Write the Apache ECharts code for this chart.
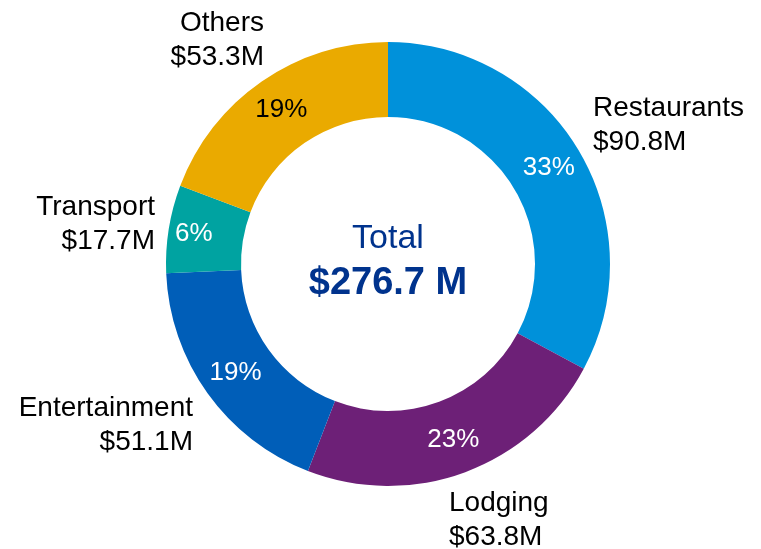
<!DOCTYPE html>
<html>
<head>
<meta charset="utf-8">
<style>
  html, body { margin: 0; padding: 0; background: #fff; }
  #chart { width: 761px; height: 549px; }
</style>
<script src="https://cdn.jsdelivr.net/npm/echarts@6/dist/echarts.min.js"></script>
</head>
<body>
<div id="chart"></div>
<script>
// spend by category, $M
const categories = ['Restaurants', 'Lodging', 'Entertainment', 'Transport', 'Others'];
const values = [90.8, 63.8, 51.1, 17.7, 53.3];

const colors = ['#0091DA', '#6D2077', '#005EB8', '#00A3A1', '#EAAA00'];
const pctColors = ['#fff', '#fff', '#fff', '#fff', '#000'];
// where each outer label sits: [x, y, align]
const outerLabelPos = [
  [593, 125, 'left'],
  [449, 520, 'left'],
  [193, 425, 'right'],
  [155, 224, 'right'],
  [264, 40, 'right']
];

const font = '"Liberation Sans", Arial, sans-serif';
const total = values.reduce((a, b) => a + b, 0);

const chart = echarts.init(document.getElementById('chart'));

const ringData = categories.map((name, i) => ({
  name: name,
  value: values[i],
  itemStyle: { color: colors[i] },
  label: { color: pctColors[i] }
}));

chart.setOption({
  animation: false,
  graphic: [
    {
      type: 'text',
      style: { text: 'Total', x: 388, y: 239, align: 'center', verticalAlign: 'middle',
        font: '34px ' + font, fill: '#00338D' }
    },
    {
      type: 'text',
      style: { text: '$' + total.toFixed(1) + ' M', x: 388, y: 284, align: 'center', verticalAlign: 'middle',
        font: 'bold 38px ' + font, fill: '#00338D' }
    }
  ],
  series: [
    {
      type: 'pie',
      center: [388, 264],
      radius: [147, 222],
      startAngle: 90,
      percentPrecision: 0,
      avoidLabelOverlap: false,
      itemStyle: { borderWidth: 0 },
      label: {
        position: 'inside',
        formatter: '{d}%',
        fontFamily: font,
        fontSize: 26
      },
      labelLine: { show: false },
      // transport's percentage sits a little left of centre in the original
      labelLayout: p => (p.dataIndex === 3 ? { dx: -9 } : {}),
      data: ringData
    },
    {
      type: 'pie',
      center: [388, 264],
      radius: [147, 222],
      startAngle: 90,
      silent: true,
      avoidLabelOverlap: false,
      itemStyle: { color: 'transparent' },
      label: {
        position: 'outside',
        formatter: p => p.name + '\n$' + p.value.toFixed(1) + 'M',
        fontFamily: font,
        fontSize: 28,
        lineHeight: 34,
        color: '#000'
      },
      labelLine: { show: false },
      labelLayout: p => {
        const pos = outerLabelPos[p.dataIndex];
        return { x: pos[0], y: pos[1], align: pos[2], verticalAlign: 'middle' };
      },
      data: categories.map((name, i) => ({ name: name, value: values[i] }))
    }
  ]
});
</script>
</body>
</html>
